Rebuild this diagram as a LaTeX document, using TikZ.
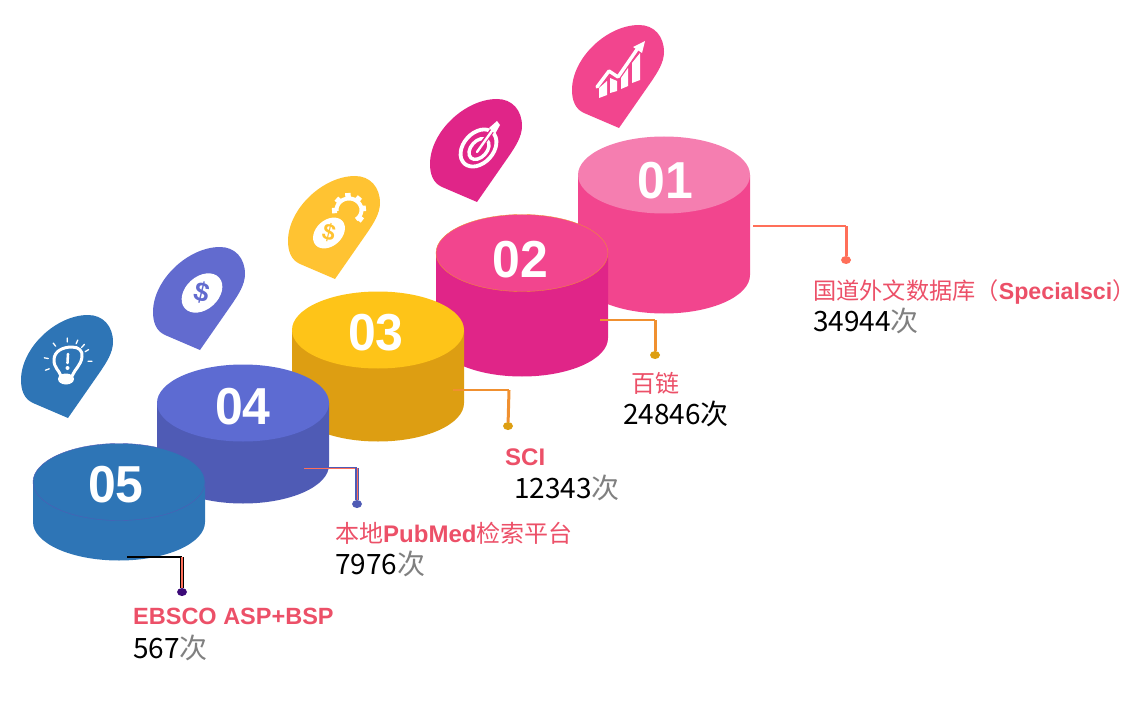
\documentclass[tikz,border=0pt]{standalone}
\usepackage{fontspec}
\setmainfont{Liberation Sans}
\newfontfamily\cjk{Noto Sans CJK SC}
\usepackage{xcolor}
\definecolor{pinka}{RGB}{245,126,176}
\definecolor{pinkb}{RGB}{242,69,142}
\definecolor{pinkc}{RGB}{224,37,136}
\definecolor{yellowa}{RGB}{254,196,24}
\definecolor{yellowb}{RGB}{221,158,18}
\definecolor{yellowpin}{RGB}{255,195,50}
\definecolor{bluea}{RGB}{93,107,210}
\definecolor{blueb}{RGB}{79,91,181}
\definecolor{bluepin}{RGB}{98,107,207}
\definecolor{steel}{RGB}{46,117,182}
\definecolor{labelred}{RGB}{236,80,104}
\definecolor{coral}{RGB}{255,111,89}
\definecolor{amber}{RGB}{240,144,48}
\definecolor{plum}{RGB}{60,10,120}
\usetikzlibrary{shapes.geometric}
\newcommand{\szlabel}{\fontsize{24}{24}\selectfont}
\newcommand{\szcount}{\fontsize{28}{28}\selectfont}
\newcommand{\ci}{\textcolor{gray}{次}}
\tikzset{
    disc/.style={draw=none, ellipse, inner sep=0, minimum width=172pt, minimum height=77pt},
    numeral/.style={text=white, inner sep=0, xscale=.96, font=\fontsize{52}{52}\selectfont\bfseries},
    caption/.style={anchor=base west, inner sep=0, text=labelred, font=\szlabel},
    tally/.style={anchor=base west, inner sep=0, text=black, font=\szcount\cjk},
    dot/.style={ellipse, inner sep=0, minimum width=10pt, minimum height=8pt},
    feed/.style={line width=1.3pt},
    drop/.style={line width=3pt},
    stroke/.style={draw=white, line cap=round, line join=round},
    glyph/.style={inner sep=0, font=\bfseries},
    marker/.pic={
        \fill[pic actions] (0,0) -- (-35,-15) .. controls (-44,-19) and (-47,-28) .. (-47,-38)
            .. controls (-47,-70) and (-12,-103) .. (20,-103)
            .. controls (35,-103) and (45,-92) .. (45,-76)
            .. controls (45,-65) and (38,-55) .. (32,-46) -- cycle;
    }
}
% id, x, top, bottom, side colour, top colour
\newcommand{\drum}[6]{
    \fill[#5] (#2-86,#3) -- (#2+86,#3) -- (#2+86,#4) arc[start angle=0, end angle=-180, x radius=86pt, y radius=38.5pt] -- cycle;
    \node[disc, fill=#6] (top-#1) at (#2,#3) {};
}
\begin{document}
\begin{tikzpicture}[x=1pt, y=-1pt]
    \useasboundingbox (0,0) rectangle (1139,719);

    % markers
    \pic[fill=pinkb] at (619,128) {marker};
    \pic[fill=pinkc] at (477,202) {marker};
    \pic[fill=yellowpin] at (335,279) {marker};
    \pic[fill=bluepin] at (200,350) {marker};
    \pic[fill=steel] at (68,418) {marker};

    % chart icon
    \fill[white] (599,88) -- (607,81) -- (607,95) -- (599,98) -- cycle
        (610,78) -- (617,81) -- (617,91) -- (610,93) -- cycle
        (621,78) -- (628,68) -- (628,86) -- (621,89) -- cycle
        (632,63) -- (640,53) -- (640,80) -- (632,83) -- cycle;
    \draw[stroke, draw=pinkb, line width=5.5pt] (597,84) -- (609,68) -- (618,74) -- (638,44);
    \draw[stroke, line width=3.4pt] (597,87) -- (609,71) -- (618,77) -- (638,48);
    \fill[white] (645,41) -- (633,47) -- (642,53) -- cycle;

    % target icon
    \draw[draw=white, line width=3.8pt, rotate around={48:(478.5,148)}] (478.5,148) ellipse [x radius=21pt, y radius=15pt];
    \draw[draw=white, line width=3.4pt, rotate around={48:(479,149)}] (479,149) ellipse [x radius=12pt, y radius=8pt];
    \draw[draw=pinkc, line width=5pt] (480,147) -- (494,128);
    \draw[stroke, line width=2.4pt] (477,152) -- (494,128);
    \fill[white] (489,128) -- (497,121) -- (500,125) -- (495,134) -- cycle;

    % gear and coin icon
    \draw[draw=white, line width=4pt] plot[domain=175:415, samples=30] ({349+12.5*cos(\x)},{210+11.5*sin(\x)});
    \foreach \a in {178,222,266,310,354,398} {
        \draw[draw=white, line width=5.5pt] (349,210) ++(\a:12) -- ++(\a:5);
    }
    \fill[white, rotate around={42:(329,233)}] (329,233) ellipse [x radius=18pt, y radius=13pt];
    \node[glyph, text=yellowpin, rotate=-14, font=\fontsize{23}{23}\selectfont\bfseries] (coin-3) at (329,233) {\$};

    % coin icon
    \fill[white, rotate around={42:(202,293)}] (202,293) ellipse [x radius=23pt, y radius=16.5pt];
    \node[glyph, text=bluepin, rotate=-14, font=\fontsize{27}{27}\selectfont\bfseries] (coin-4) at (202,293) {\$};

    % bulb icon
    \draw[stroke, line width=3pt] (61,376) .. controls (59,370) and (54,368) .. (54,360)
        .. controls (54,351) and (63,347) .. (72,347) .. controls (79,347) and (83,351) .. (82,357)
        .. controls (81,365) and (75,369) .. (72,376);
    \fill[white] (66,379) ellipse [x radius=8pt, y radius=5.5pt];
    \draw[stroke, line width=2.6pt] (68,354) -- (67.5,363);
    \fill[white] (67.5,368) circle [radius=2pt];
    \foreach \a in {160,190,232,268,294,313,329,358} {
        \draw[stroke, line width=1.3pt] (68,362) ++(\a:20) -- ++(\a:4);
    }

    % drums
    \drum{1}{664}{175}{275}{pinkb}{pinka}
    \drum{2}{522}{253}{338}{pinkc}{pinkb}
    \draw[draw=amber, line width=.35pt] (top-2) ellipse [x radius=86pt, y radius=38.5pt];
    \drum{3}{378}{330}{403}{yellowb}{yellowa}
    \drum{4}{243}{403}{465}{blueb}{bluea}
    \drum{5}{119}{482}{522}{steel}{steel}
    \draw[draw=blueb, line width=.4pt] (top-5) ellipse [x radius=86pt, y radius=38.5pt];

    \node[numeral] (num-1) at (665,181) {01};
    \node[numeral] (num-2) at (520,260) {02};
    \node[numeral] (num-3) at (376,333) {03};
    \node[numeral] (num-4) at (243,407) {04};
    \node[numeral] (num-5) at (116,485) {05};

    % leaders
    \coordinate (lead-1) at (753,226);
    \coordinate (bend-1) at (846,226);
    \node[dot, fill=coral] (dot-1) at (846,260) {};
    \draw[feed, coral] (lead-1) -- (bend-1);
    \draw[drop, coral] (bend-1) -- (dot-1);

    \coordinate (lead-2) at (600,320);
    \coordinate (bend-2) at (655,320);
    \node[dot, fill=yellowb] (dot-2) at (655,355) {};
    \draw[feed, amber] (lead-2) -- (bend-2);
    \draw[drop, amber] (bend-2) -- (dot-2);

    \coordinate (lead-3) at (453,390);
    \coordinate (bend-3) at (509,390);
    \node[dot, fill=yellowb] (dot-3) at (508,426) {};
    \draw[feed, amber] (lead-3) -- (bend-3);
    \draw[drop, amber] (bend-3) -- (dot-3);

    \coordinate (lead-4) at (304,468);
    \coordinate (bend-4) at (357,468);
    \node[dot, fill=blueb] (dot-4) at (357,504) {};
    \draw[feed, blueb] (lead-4) -- (bend-4);
    \draw[line width=.5pt, coral] (lead-4) -- (bend-4);
    \draw[line width=3.5pt, blueb] (bend-4) -- (dot-4);
    \draw[line width=1pt, coral] (bend-4) -- (dot-4);

    \coordinate (lead-5) at (127,557);
    \coordinate (bend-5) at (182,557);
    \node[dot, fill=plum] (dot-5) at (182,592) {};
    \draw[feed, black] (lead-5) -- (bend-5);
    \draw[line width=4pt, black] (bend-5) -- (dot-5);
    \draw[line width=1.5pt, coral] (bend-5) -- (dot-5);

    % labels
    \node[caption, font=\fontsize{23.2}{24}\selectfont] (name-1) at (813,299) {{\cjk 国道外文数据库（}\textbf{Specialsci}{\cjk ）}};
    \node[tally] (count-1) at (813,331) {34944\ci};
    \node[caption] (name-2) at (631,392) {\cjk 百链};
    \node[tally] (count-2) at (623,424) {24846次};
    \node[caption] (name-3) at (505,465) {\textbf{SCI}};
    \node[tally] (count-3) at (514,498) {12343\ci};
    \node[caption] (name-4) at (335,542) {{\cjk 本地}\textbf{PubMed}{\cjk 检索平台}};
    \node[tally] (count-4) at (335,574) {7976\ci};
    \node[caption, font=\fontsize{23.5}{24}\selectfont] (name-5) at (133,624) {\textbf{EBSCO ASP+BSP}};
    \node[tally] (count-5) at (133,658) {567\ci};
\end{tikzpicture}
\end{document}
